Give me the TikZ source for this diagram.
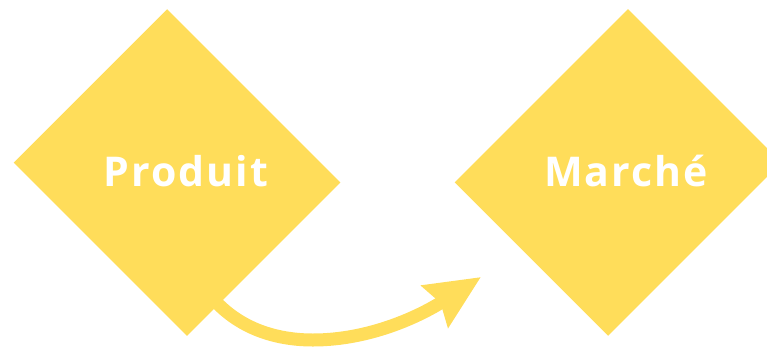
\documentclass[tikz,border=0pt]{standalone}
\usepackage{fontspec}
\setmainfont{Open Sans}
\usetikzlibrary{arrows.meta}
\definecolor{ylw}{RGB}{255,221,90}
\tikzset{
  dia/.style={rectangle, fill=ylw, draw=none, rotate=45, inner sep=0pt},
  lbl/.style={text=white, font=\fontsize{41}{48}\selectfont\bfseries\addfontfeature{LetterSpace=5}, inner sep=0pt, anchor=base},
  flow/.style={draw=ylw, line width=13pt, -{Stealth[length=54pt, width=48pt, inset=6pt]}}
}
\begin{document}
\begin{tikzpicture}[x=1pt, y=-1pt]
\useasboundingbox (0,0) rectangle (767,348);
\clip (0,0) rectangle (767,348);
\node[dia, minimum width=217pt, minimum height=245pt] (L) at (177,172.5) {};
\node[dia, minimum width=245pt, minimum height=217pt] (R) at (618,172.5) {};
\node[lbl] (tl) at (186,186) {Produit};
\node[lbl] (tr) at (626,186) {Marché};
\coordinate (s) at (218,304);
\coordinate (m) at (313,340);
\coordinate (e) at (481,277);
\draw[flow] (s) .. controls (245,331) and (280,340) .. (m) .. controls (370,340) and (420,316) .. (e);
\end{tikzpicture}
\end{document}
